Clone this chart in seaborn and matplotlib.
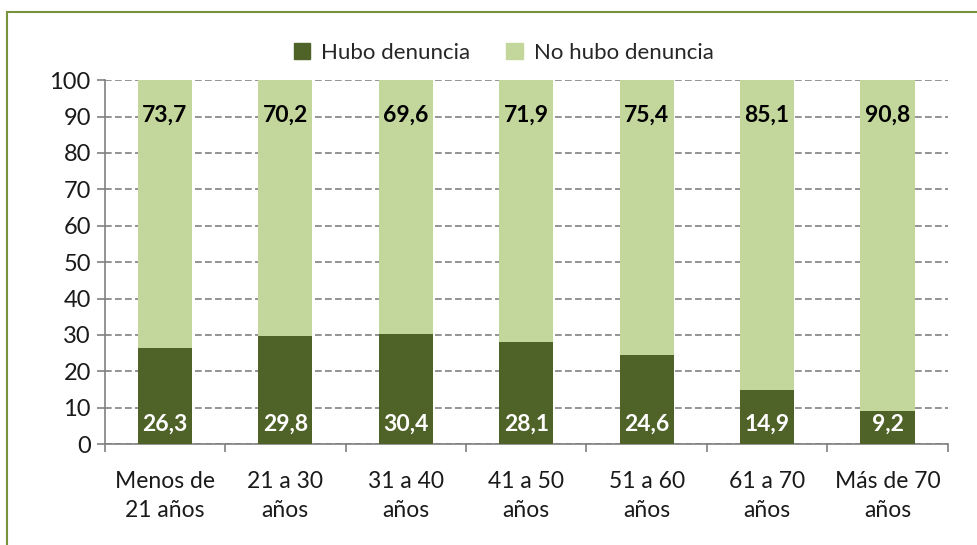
import numpy as np
import pandas as pd
import matplotlib
matplotlib.use('Agg')
import matplotlib.pyplot as plt
import seaborn as sns
from matplotlib.patches import Patch, Rectangle
from matplotlib.ticker import FixedLocator

categorias = ['Menos de\n21 años', '21 a 30\naños', '31 a 40\naños', '41 a 50\naños',
              '51 a 60\naños', '61 a 70\naños', 'Más de 70\naños']
hubo = [26.3, 29.8, 30.4, 28.1, 24.6, 14.9, 9.2]
no_hubo = [73.7, 70.2, 69.6, 71.9, 75.4, 85.1, 90.8]
yticks = list(range(0, 101, 10))

verde_osc = '#4F6228'
verde_cla = '#C3D69B'

df = pd.DataFrame({'cat': categorias, 'hubo': hubo, 'no_hubo': no_hubo})
df['total'] = df['hubo'] + df['no_hubo']

sns.set_style('white')
plt.rcParams['font.family'] = ['Lato', 'DejaVu Sans']

fig = plt.figure(figsize=(9.78, 5.45), dpi=100)
ax = fig.add_axes([0.107, 0.185, 0.862, 0.668])

sns.barplot(data=df, x='cat', y='total', color=verde_cla, width=0.45,
            saturation=1, linewidth=0, ax=ax, zorder=3)
sns.barplot(data=df, x='cat', y='hubo', color=verde_osc, width=0.45,
            saturation=1, linewidth=0, ax=ax, zorder=3)

for i, (h, n) in enumerate(zip(hubo, no_hubo)):
    ax.annotate(f'{n:.1f}'.replace('.', ','), (i, h + n), xytext=(0, -18),
                textcoords='offset points', ha='center', va='top',
                fontsize=16.5, fontweight='bold', color='black', zorder=5)
    ax.annotate(f'{h:.1f}'.replace('.', ','), (i, 0), xytext=(0, 7),
                textcoords='offset points', ha='center', va='bottom',
                fontsize=16.5, fontweight='bold', color='white', zorder=5)

ax.set_xlim(-0.5, len(categorias) - 0.5)
ax.set_ylim(0, 100)
ax.set_yticks(yticks)
ax.set_xlabel('')
ax.set_ylabel('')
ax.yaxis.grid(True, linestyle=(0, (4, 2)), color='#808080', linewidth=1.2, zorder=0)
ax.set_axisbelow(True)

for s in ['top', 'right']:
    ax.spines[s].set_visible(False)
for s in ['left', 'bottom']:
    ax.spines[s].set_color('#808080')
    ax.spines[s].set_linewidth(1.2)

ax.tick_params(axis='y', labelsize=17, length=6, color='#808080', direction='out',
               left=True, width=1.2, pad=4)
ax.tick_params(axis='x', which='major', labelsize=16.5, length=0, pad=19)
ax.xaxis.set_minor_locator(FixedLocator(np.arange(-0.5, len(categorias), 1)))
ax.tick_params(axis='x', which='minor', length=6, color='#808080', width=1.2,
               direction='out', bottom=True)
for lbl in ax.get_xticklabels() + ax.get_yticklabels():
    lbl.set_color('#1a1a1a')
for lbl in ax.get_xticklabels():
    lbl.set_linespacing(1.5)

handles = [Patch(color=verde_osc, label='Hubo denuncia'),
           Patch(color=verde_cla, label='No hubo denuncia')]
fig.legend(handles=handles, loc='center', bbox_to_anchor=(0.515, 0.903), ncol=2,
           frameon=False, fontsize=16, handlelength=0.75, handleheight=0.75,
           columnspacing=1.6, handletextpad=0.5)

fig.patches.append(Rectangle((7 / 978, -0.1), 1.2, 1 - 12 / 545 + 0.1,
                             transform=fig.transFigure, fill=False,
                             edgecolor='#77933C', linewidth=1.5))

fig.savefig('out.png', dpi=100)
